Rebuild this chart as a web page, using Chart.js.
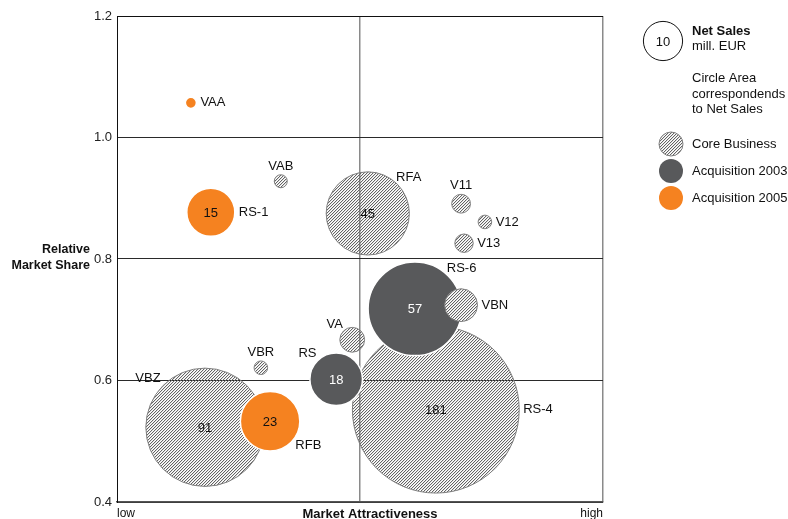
<!DOCTYPE html>
<html>
<head>
<meta charset="utf-8">
<script src="https://cdn.jsdelivr.net/npm/chart.js@4"></script>
<style>
html,body{margin:0;padding:0;background:#fff;}
#wrap{width:788px;height:519px;position:relative;}
</style>
</head>
<body>
<div id="wrap"><canvas id="c"></canvas></div>
<script>
// ---- data ----
const names = ['VAA','VAB','VBR','V11','V12','V13','VA','RFA','VBZ','RS-1','RFB','RS-4','RS','RS-6','VBN'];
const groups = ['Acquisition 2005','Core Business','Core Business','Core Business','Core Business','Core Business','Core Business','Core Business','Core Business','Acquisition 2005','Acquisition 2005','Core Business','Acquisition 2003','Acquisition 2003','Core Business'];
const attractiveness = [1.52,3.37,2.96,7.08,7.57,7.14,4.84,5.16,1.81,1.93,3.15,6.56,4.51,6.13,7.08];
const marketShare = [1.057,0.928,0.621,0.891,0.861,0.826,0.667,0.875,0.523,0.877,0.533,0.552,0.602,0.718,0.724];
const netSales = [0.8,1.1,1.2,2.3,1.2,2.2,4,45,91,15,23,181,18,57,7];
const labelPos = ['E','N','N','N','E','E','NW','NE','NW','E','SE','E','NW','NE','E'];
const yTicks = [0.4,0.6,0.8,1.0,1.2];
const legendItems = ['Core Business','Acquisition 2003','Acquisition 2005'];
const legendSample = 10;

// ---- style ----
const K = 6.2; // px radius per sqrt(mill. EUR)
const FONT = '"Liberation Sans", Arial, Helvetica, sans-serif';
const ORANGE = '#F58220';
const DARK = '#58595B';
const OPAQUE_HATCH = ['VBN']; // hatched bubbles lying over a filled bubble

const canvas = document.getElementById('c');
const ctx0 = canvas.getContext('2d');
function makeHatch(white){
  const s = 3;
  const c = document.createElement('canvas');
  c.width = s; c.height = s;
  const g = c.getContext('2d');
  if(white){ g.fillStyle = '#fff'; g.fillRect(0,0,s,s); }
  for(let x=0;x<s;x++) for(let y=0;y<s;y++){
    const k = (x+y)%3;
    if(k===2){ g.fillStyle='rgba(100,100,100,1)'; g.fillRect(x,y,1,1); }
    else if(k===0){ g.fillStyle='rgba(100,100,100,0.2)'; g.fillRect(x,y,1,1); }
  }
  return ctx0.createPattern(c,'repeat');
}
const HATCH = makeHatch(false);
const HATCH_W = makeHatch(true);
function fillFor(group, name){
  if(group==='Acquisition 2003') return DARK;
  if(group==='Acquisition 2005') return ORANGE;
  return OPAQUE_HATCH.includes(name) ? HATCH_W : HATCH;
}

const points = names.map((n,i)=>({x:attractiveness[i], y:marketShare[i], r:K*Math.sqrt(netSales[i])}));

const labelPlugin = {
  id:'labels',
  afterDatasetsDraw(chart){
    const ctx = chart.ctx;
    const meta = chart.getDatasetMeta(0);
    ctx.save();
    meta.data.forEach((el,i)=>{
      const cx = el.x, cy = el.y, r = el.options.radius;
      if(netSales[i] >= 10){
        ctx.font = '13px ' + FONT;
        ctx.fillStyle = groups[i]==='Acquisition 2003' ? '#fff' : '#111';
        ctx.textAlign = 'center'; ctx.textBaseline = 'middle';
        ctx.fillText(String(netSales[i]), cx, cy+1);
      }
      ctx.font = '13px ' + FONT;
      ctx.fillStyle = '#111';
      const p = labelPos[i];
      let x, y;
      if(p==='E'){ x = cx + r + 4; y = cy; ctx.textAlign='left'; ctx.textBaseline='middle'; }
      else if(p==='N'){ x = cx; y = cy - r - 2; ctx.textAlign='center'; ctx.textBaseline='bottom'; }
      else if(p==='NE'){ x = cx + r*0.68; y = cy - r*0.72; ctx.textAlign='left'; ctx.textBaseline='bottom'; }
      else if(p==='NW'){ x = cx - r*0.75; y = cy - r*0.72; ctx.textAlign='right'; ctx.textBaseline='bottom'; }
      else if(p==='SE'){ x = cx + r*0.85; y = cy + r*0.6; ctx.textAlign='left'; ctx.textBaseline='top'; }
      ctx.fillText(names[i], x, y);
    });
    ctx.restore();
  }
};

const decorPlugin = {
  id:'decor',
  afterDraw(chart){
    const ctx = chart.ctx;
    const a = chart.chartArea;
    ctx.save();
    ctx.fillStyle = '#111';
    ctx.font = 'bold 12.5px ' + FONT;
    ctx.textAlign = 'right'; ctx.textBaseline = 'middle';
    const ym = chart.scales.y.getPixelForValue(0.8);
    ctx.fillText('Relative', 90, ym - 9);
    ctx.fillText('Market Share', 90, ym + 7);
    ctx.textBaseline = 'middle';
    ctx.font = '12px ' + FONT;
    ctx.textAlign = 'left'; ctx.fillText('low', a.left, a.bottom + 12);
    ctx.textAlign = 'right'; ctx.fillText('high', a.right, a.bottom + 12);
    ctx.font = 'bold 13px ' + FONT;
    ctx.textAlign = 'center';
    ctx.fillText('Market Attractiveness', (a.left+a.right)/2 + 10, a.bottom + 12);

    const lx = 663, ly = 41;
    const lr = K*Math.sqrt(legendSample);
    ctx.beginPath(); ctx.arc(lx, ly, lr, 0, Math.PI*2);
    ctx.fillStyle = '#fff'; ctx.fill();
    ctx.strokeStyle = '#111'; ctx.lineWidth = 1; ctx.stroke();
    ctx.fillStyle = '#111';
    ctx.font = '13px ' + FONT; ctx.textAlign='center'; ctx.textBaseline='middle';
    ctx.fillText(String(legendSample), lx, ly+1);
    ctx.textAlign = 'left';
    ctx.font = 'bold 13px ' + FONT; ctx.fillText('Net Sales', 692, 31);
    ctx.font = '13px ' + FONT;
    ctx.fillText('mill. EUR', 692, 46);
    ctx.fillText('Circle Area', 692, 78);
    ctx.fillText('correspondends', 692, 94);
    ctx.fillText('to Net Sales', 692, 109);
    const rows = [144,171,198];
    legendItems.forEach((t,i)=>{
      ctx.beginPath(); ctx.arc(671, rows[i], 12, 0, Math.PI*2);
      ctx.fillStyle = fillFor(t, ''); ctx.fill();
      if(t==='Core Business'){ ctx.strokeStyle='#808080'; ctx.lineWidth=1; ctx.stroke(); }
      ctx.fillStyle = '#111';
      ctx.fillText(t, 692, rows[i]);
    });
    ctx.restore();
  }
};

new Chart(canvas, {
  type:'bubble',
  data:{ datasets:[{
    data: points,
    backgroundColor: c => fillFor(groups[c.dataIndex], names[c.dataIndex]),
    borderColor: c => groups[c.dataIndex]==='Core Business' ? '#7f7f7f' : '#ffffff',
    borderWidth: c => groups[c.dataIndex]==='Core Business' ? 1 : 1.5,
    hoverRadius: 0,
    hoverBorderWidth: 0,
    clip: false
  }]},
  options:{
    responsive:true, maintainAspectRatio:false, animation:false,
    events:[],
    layout:{ autoPadding:false, padding:{ top:16, right:185, left:0, bottom:0 } },
    plugins:{ legend:{display:false}, tooltip:{enabled:false} },
    scales:{
      x:{
        type:'linear', min:0, max:10,
        afterBuildTicks: s => { s.ticks = [{value:0},{value:5},{value:10}]; },
        ticks:{ display:false },
        grid:{ drawTicks:false, color: c => c.tick && c.tick.value===0 ? 'rgba(0,0,0,0)' : '#8a8a8a', lineWidth:1.5 },
        border:{ display:true, color:'#555', width:1.5 },
        afterFit: s => { s.height = 17; }
      },
      y:{
        type:'linear', min:0.4, max:1.2,
        afterBuildTicks: s => { s.ticks = yTicks.map(v=>({value:v})); },
        ticks:{ font:{ family:FONT, size:13 }, color:'#222', padding:5, callback: v => Number(v).toFixed(1) },
        grid:{ drawTicks:false, color: c => c.tick && c.tick.value===1.2 ? '#111' : '#2a2a2a', lineWidth:1 },
        border:{ display:true, color:'#111', width:1 },
        afterFit: s => { s.width = 117; }
      }
    }
  },
  plugins:[labelPlugin, decorPlugin]
});
</script>
</body>
</html>
